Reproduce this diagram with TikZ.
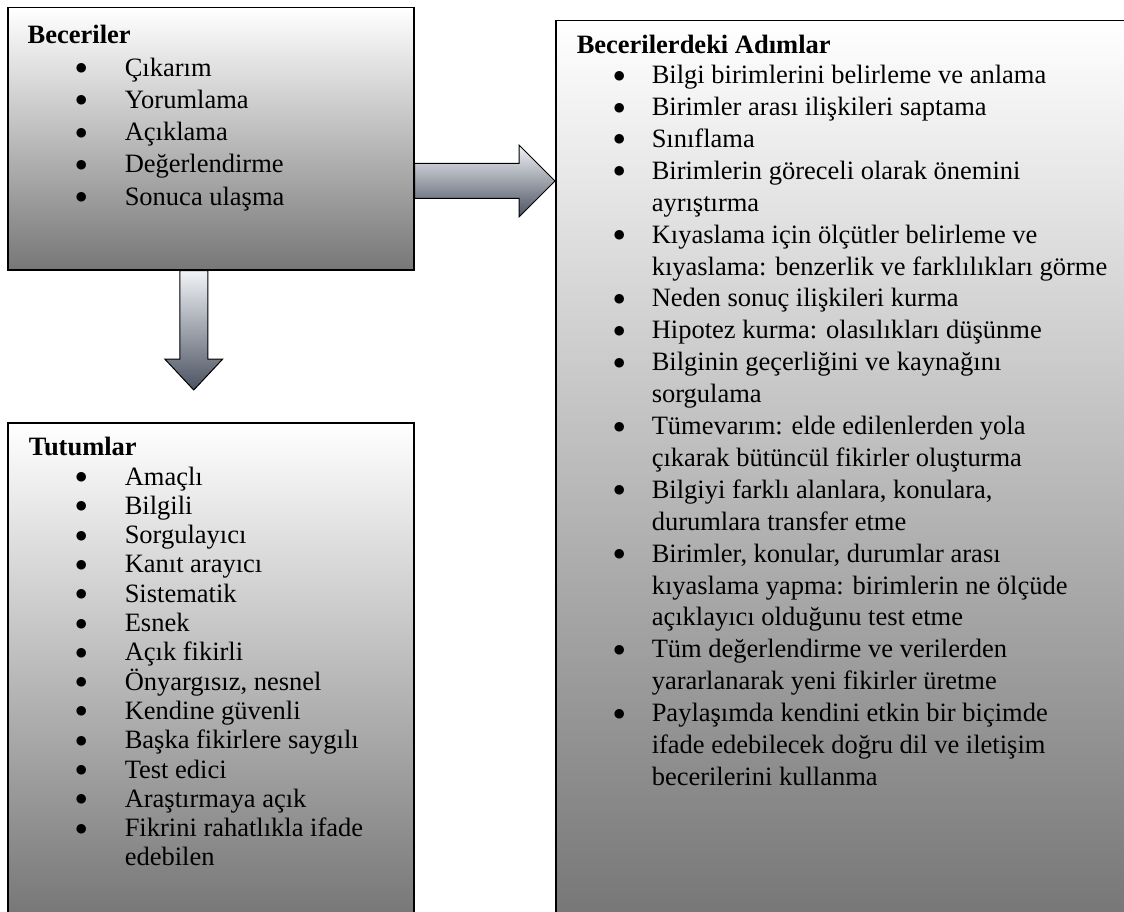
\documentclass[tikz,border=0pt]{standalone}
\usepackage{fontspec}
\setmainfont{Liberation Serif}
\newfontfamily\imfont{DejaVu Sans}
\usepackage{tikz}
\usetikzlibrary{calc}

\definecolor{kutualt}{HTML}{777777}
\definecolor{okacik}{HTML}{F1F3F7}
\definecolor{okkoyu}{HTML}{4B5361}

\newlength{\madbul}
\newlength{\madyaz}
\newcommand{\imi}{\raisebox{4.5pt}{\imfont\fontsize{12.5}{12.5}\selectfont ●}}
\newcommand{\madde}[1]{\par\hspace*{\madbul}\makebox[\dimexpr\madyaz-\madbul\relax][l]{\imi}#1}
\newcommand{\devam}[1]{\par\hspace*{\madyaz}#1}

\tikzset{
  kutu/.style={draw=black, line width=1.5pt, rectangle, inner sep=0pt, anchor=north west,
               top color=white, bottom color=kutualt},
  okstil/.style={draw=black, line width=1pt, top color=okacik, bottom color=okkoyu}
}

\begin{document}
\begin{tikzpicture}[x=1pt, y=-1pt]
      \useasboundingbox (0,0) rectangle (1124,912);
      \clip (0,0) rectangle (1124,912);

      % kutular
      \node[kutu] (bec) at (7,7) {\parbox[t][262pt][t]{406pt}{%
        \fontsize{26.5}{32.3}\selectfont\setlength{\parindent}{0pt}\setlength{\parskip}{0pt}%
        \setlength{\madbul}{68pt}\setlength{\madyaz}{117pt}%
        \rule{0pt}{36pt}\hspace*{20pt}\textbf{Beceriler}
        \madde{Çıkarım}
        \madde{Yorumlama}
        \madde{Açıklama}
        \madde{Değerlendirme}
        \madde{Sonuca ulaşma}}};

      \node[kutu] (tut) at (7,422) {\parbox[t][492pt][t]{406pt}{%
        \fontsize{26.5}{29.3}\selectfont\setlength{\parindent}{0pt}\setlength{\parskip}{0pt}%
        \setlength{\madbul}{68pt}\setlength{\madyaz}{117pt}%
        \rule{0pt}{33pt}\hspace*{21pt}\textbf{Tutumlar}
        \madde{Amaçlı}
        \madde{Bilgili}
        \madde{Sorgulayıcı}
        \madde{Kanıt arayıcı}
        \madde{Sistematik}
        \madde{Esnek}
        \madde{Açık fikirli}
        \madde{Önyargısız, nesnel}
        \madde{Kendine güvenli}
        \madde{Başka fikirlere saygılı}
        \madde{Test edici}
        \madde{Araştırmaya açık}
        \madde{Fikrini rahatlıkla ifade}
        \devam{edebilen}}};

      \node[kutu] (adim) at (555,20) {\parbox[t][894pt][t]{575pt}{%
        \fontsize{26.5}{31.9}\selectfont\setlength{\parindent}{0pt}\setlength{\parskip}{0pt}%
        \setlength{\madbul}{58pt}\setlength{\madyaz}{96pt}%
        \rule{0pt}{33pt}\hspace*{21pt}\textbf{Becerilerdeki Adımlar}\par\vspace{-2pt}
        \madde{Bilgi birimlerini belirleme ve anlama}
        \madde{Birimler arası ilişkileri saptama}
        \madde{Sınıflama}
        \madde{Birimlerin göreceli olarak önemini}
        \devam{ayrıştırma}
        \madde{Kıyaslama için ölçütler belirleme ve}
        \devam{kıyaslama: benzerlik ve farklılıkları görme}
        \madde{Neden sonuç ilişkileri kurma}
        \madde{Hipotez kurma: olasılıkları düşünme}
        \madde{Bilginin geçerliğini ve kaynağını}
        \devam{sorgulama}
        \madde{Tümevarım: elde edilenlerden yola}
        \devam{çıkarak bütüncül fikirler oluşturma}
        \madde{Bilgiyi farklı alanlara, konulara,}
        \devam{durumlara transfer etme}
        \madde{Birimler, konular, durumlar arası}
        \devam{kıyaslama yapma: birimlerin ne ölçüde}
        \devam{açıklayıcı olduğunu test etme}
        \madde{Tüm değerlendirme ve verilerden}
        \devam{yararlanarak yeni fikirler üretme}
        \madde{Paylaşımda kendini etkin bir biçimde}
        \devam{ifade edebilecek doğru dil ve iletişim}
        \devam{becerilerini kullanma}}};

      % oklar
      \coordinate (ra) at ($(bec.north east)+(0,174)$);
      \coordinate (rt) at (adim.west |- ra);
      \draw[okstil] ($(ra)+(0,-17.5)$) -- ($(rt)+(-36,-17.5)$) -- ($(rt)+(-36,-36)$) -- (rt)
            -- ($(rt)+(-36,36)$) -- ($(rt)+(-36,17.5)$) -- ($(ra)+(0,17.5)$) -- cycle;

      \coordinate (da) at ($(bec.south)+(-17,0)$);
      \coordinate (dt) at ($(da |- tut.north)+(0,-32)$);
      \draw[okstil] ($(da)+(-14,0)$) -- ($(dt)+(-14,-31)$) -- ($(dt)+(-29,-31)$) -- (dt)
            -- ($(dt)+(29,-31)$) -- ($(dt)+(14,-31)$) -- ($(da)+(14,0)$) -- cycle;
\end{tikzpicture}
\end{document}
